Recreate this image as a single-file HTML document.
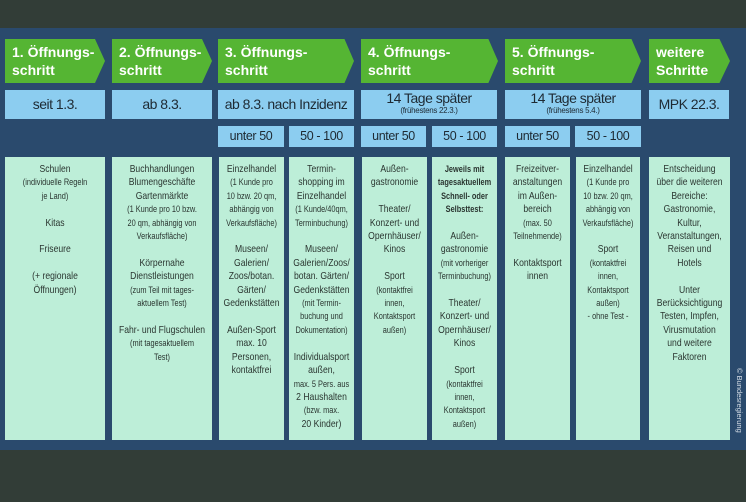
<!DOCTYPE html>
<html><head><meta charset="utf-8"><style>
*{margin:0;padding:0;box-sizing:border-box}
body{width:746px;height:502px;background:#323d37;position:relative;overflow:hidden;font-family:"Liberation Sans",sans-serif}
.bg{position:absolute;left:0;top:28px;width:746px;height:422px;background:#2a4a6d}
.hd{position:absolute;top:39px;height:44px;background:#55b533;color:#fff;font-weight:bold;font-size:14px;line-height:18px;padding:4px 0 0 7px}
.dt{position:absolute;top:90px;height:29px;background:#8ccdf0;color:#1e2a33;text-align:center;font-size:14px;line-height:29px;letter-spacing:-0.5px}
.dt.two{line-height:15px;padding-top:1px}
.dt small{display:block;font-size:8px;line-height:10px;letter-spacing:-0.3px}
.sb{position:absolute;top:126px;height:21px;background:#8ccdf0;color:#1e2a33;text-align:center;font-size:12.5px;line-height:21px;letter-spacing:-0.4px}
.ct{position:absolute;top:157px;height:283px;background:#bdeed8;color:#2a3530;padding-top:6px;overflow:hidden}
.ct>div{width:122%;transform:scaleX(0.82);transform-origin:0 0;text-align:center;font-size:10.5px;line-height:13.4px}
.ct .s{font-size:9px}
.cp{position:absolute;color:#d8e0e8;font-size:7.5px;transform:rotate(90deg);transform-origin:left top;white-space:nowrap;left:744px;top:368px}
</style></head><body>
<div class="bg"></div>

<div class="hd" style="left:5px;width:100px;clip-path:polygon(0 0,90% 0,100% 50%,90% 100%,0 100%)">1. Öffnungs-<br>schritt</div>
<div class="hd" style="left:112px;width:100px;clip-path:polygon(0 0,90% 0,100% 50%,90% 100%,0 100%)">2. Öffnungs-<br>schritt</div>
<div class="hd" style="left:218px;width:136px;clip-path:polygon(0 0,93% 0,100% 50%,93% 100%,0 100%)">3. Öffnungs-<br>schritt</div>
<div class="hd" style="left:361px;width:137px;clip-path:polygon(0 0,93% 0,100% 50%,93% 100%,0 100%)">4. Öffnungs-<br>schritt</div>
<div class="hd" style="left:505px;width:136px;clip-path:polygon(0 0,93% 0,100% 50%,93% 100%,0 100%)">5. Öffnungs-<br>schritt</div>
<div class="hd" style="left:649px;width:81px;clip-path:polygon(0 0,87% 0,100% 50%,87% 100%,0 100%)">weitere<br>Schritte</div>

<div class="dt" style="left:5px;width:100px">seit 1.3.</div>
<div class="dt" style="left:112px;width:100px">ab 8.3.</div>
<div class="dt" style="left:218px;width:136px">ab 8.3. nach Inzidenz</div>
<div class="dt two" style="left:361px;width:136px">14 Tage später<small>(frühestens 22.3.)</small></div>
<div class="dt two" style="left:505px;width:136px">14 Tage später<small>(frühestens 5.4.)</small></div>
<div class="dt" style="left:649px;width:80px">MPK 22.3.</div>

<div class="sb" style="left:218px;width:66px">unter 50</div>
<div class="sb" style="left:289px;width:65px">50 - 100</div>
<div class="sb" style="left:361px;width:65px">unter 50</div>
<div class="sb" style="left:432px;width:65px">50 - 100</div>
<div class="sb" style="left:505px;width:65px">unter 50</div>
<div class="sb" style="left:575px;width:66px">50 - 100</div>

<div class="ct" style="left:5px;width:100px"><div>Schulen<br><span class="s">(individuelle Regeln<br>je Land)</span><br><br>Kitas<br><br>Friseure<br><br>(+ regionale<br>Öffnungen)</div></div>
<div class="ct" style="left:112px;width:100px"><div>Buchhandlungen<br>Blumengeschäfte<br>Gartenmärkte<br><span class="s">(1 Kunde pro 10 bzw.<br>20 qm, abhängig von<br>Verkaufsfläche)</span><br><br>Körpernahe<br>Dienstleistungen<br><span class="s">(zum Teil mit tages-<br>aktuellem Test)</span><br><br>Fahr- und Flugschulen<br><span class="s">(mit tagesaktuellem<br>Test)</span></div></div>
<div class="ct" style="left:219px;width:65px"><div>Einzelhandel<br><span class="s">(1 Kunde pro<br>10 bzw. 20 qm,<br>abhängig von<br>Verkaufsfläche)</span><br><br>Museen/<br>Galerien/<br>Zoos/botan.<br>Gärten/<br>Gedenkstätten<br><br>Außen-Sport<br>max. 10<br>Personen,<br>kontaktfrei</div></div>
<div class="ct" style="left:289px;width:65px"><div>Termin-<br>shopping im<br>Einzelhandel<br><span class="s">(1 Kunde/40qm,<br>Terminbuchung)</span><br><br>Museen/<br>Galerien/Zoos/<br>botan. Gärten/<br>Gedenkstätten<br><span class="s">(mit Termin-<br>buchung und<br>Dokumentation)</span><br><br>Individualsport<br>außen,<br><span class="s">max. 5 Pers. aus</span><br>2 Haushalten<br><span class="s">(bzw. max.</span><br>20 Kinder)</div></div>
<div class="ct" style="left:362px;width:65px"><div>Außen-<br>gastronomie<br><br>Theater/<br>Konzert- und<br>Opernhäuser/<br>Kinos<br><br>Sport<br><span class="s">(kontaktfrei<br>innen,<br>Kontaktsport<br>außen)</span></div></div>
<div class="ct" style="left:432px;width:65px"><div><b class="s">Jeweils mit<br>tagesaktuellem<br>Schnell- oder<br>Selbsttest:</b><br><br>Außen-<br>gastronomie<br><span class="s">(mit vorheriger<br>Terminbuchung)</span><br><br>Theater/<br>Konzert- und<br>Opernhäuser/<br>Kinos<br><br>Sport<br><span class="s">(kontaktfrei<br>innen,<br>Kontaktsport<br>außen)</span></div></div>
<div class="ct" style="left:505px;width:65px"><div>Freizeitver-<br>anstaltungen<br>im Außen-<br>bereich<br><span class="s">(max. 50<br>Teilnehmende)</span><br><br>Kontaktsport<br>innen</div></div>
<div class="ct" style="left:576px;width:64px"><div>Einzelhandel<br><span class="s">(1 Kunde pro<br>10 bzw. 20 qm,<br>abhängig von<br>Verkaufsfläche)</span><br><br>Sport<br><span class="s">(kontaktfrei<br>innen,<br>Kontaktsport<br>außen)<br>- ohne Test -</span></div></div>
<div class="ct" style="left:649px;width:81px"><div>Entscheidung<br>über die weiteren<br>Bereiche:<br>Gastronomie,<br>Kultur,<br>Veranstaltungen,<br>Reisen und<br>Hotels<br><br>Unter<br>Berücksichtigung<br>Testen, Impfen,<br>Virusmutation<br>und weitere<br>Faktoren</div></div>

<div class="cp">© Bundesregierung</div>
</body></html>
